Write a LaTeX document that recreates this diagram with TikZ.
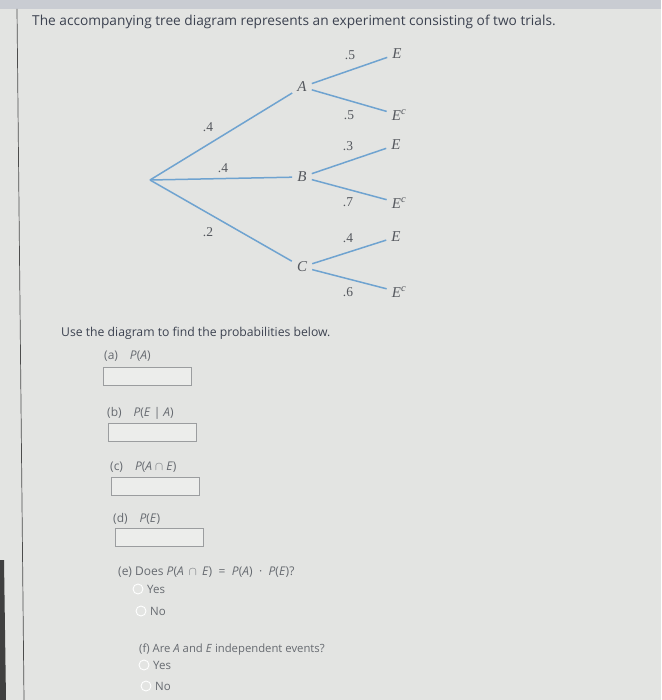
\documentclass[tikz,border=0pt]{standalone}
\usepackage{fontspec}
\setmainfont{Open Sans}
\newfontfamily\treefont{Liberation Serif}
\definecolor{bg}{HTML}{E3E4E2}
\definecolor{band}{HTML}{C9CCD2}
\definecolor{txt}{HTML}{3C4250}
\definecolor{tree}{HTML}{6FA3D0}
\definecolor{lbl}{HTML}{55585E}
\definecolor{boxb}{HTML}{9B9D9F}
\definecolor{boxf}{HTML}{ECEDEB}
\definecolor{qtxt}{HTML}{666A70}
\newcommand{\capsym}{$\cap$}
\begin{document}
\begin{tikzpicture}[x=1pt,y=-1pt,
  branch/.style={draw=tree, line width=1.5pt},
  ev/.style={font=\treefont\itshape\fontsize{15}{15}\selectfont, text=lbl, inner sep=5pt},
  prob/.style={font=\treefont\fontsize{13.5}{13.5}\selectfont, text=lbl, inner sep=1pt},
  qlabel/.style={font=\fontsize{12}{14}\selectfont, text=qtxt, anchor=west, inner sep=0pt},
  ansbox/.style={draw=boxb, fill=boxf, line width=0.8pt, minimum width=88pt, minimum height=18pt, anchor=north west, inner sep=0pt},
  radio/.style={circle, draw=white, line width=0.9pt, fill=bg, minimum size=10pt, inner sep=0pt},
  rlabel/.style={font=\fontsize{11.5}{13}\selectfont, text=qtxt, anchor=west, inner sep=0pt}]
\fill[bg] (0,0) rectangle (661,700);
\useasboundingbox (0,0) rectangle (661,700);
\fill[band] (0,0) rectangle (661,9);
\draw[black!70, line width=0.7pt] (17,9) -- (24,700);
\fill[black!75] (0,560) -- (4,560) -- (6,700) -- (0,700) -- cycle;

\node[anchor=west, inner sep=0pt, text=txt, font=\fontsize{13.7}{16}\selectfont] (title) at (32,22) {The accompanying tree diagram represents an experiment consisting of two trials.};

% tree
\coordinate (root) at (150,180);
\node[ev] (A) at (302,87) {A};
\node[ev] (B) at (302,177) {B};
\node[ev] (C) at (302,267) {C};
\node[ev] (AE) at (397,54) {E};
\node[ev] (AEc) at (399,115) {E\textsuperscript{c}};
\node[ev] (BE) at (396,145) {E};
\node[ev] (BEc) at (399,203) {E\textsuperscript{c}};
\node[ev] (CE) at (396,237) {E};
\node[ev] (CEc) at (399,292) {E\textsuperscript{c}};
\draw[branch] (root) -- (A);
\draw[branch] (root) -- (B);
\draw[branch] (root) -- (C);
\draw[branch] (A) -- (AE);
\draw[branch] (A) -- (AEc);
\draw[branch] (B) -- (BE);
\draw[branch] (B) -- (BEc);
\draw[branch] (C) -- (CE);
\draw[branch] (C) -- (CEc);
\node[prob] (pA) at (208,127) {.4};
\node[prob] (pB) at (223,168) {.4};
\node[prob] (pC) at (208,232) {.2};
\node[prob] (pAE) at (350,55) {.5};
\node[prob] (pAEc) at (349,115) {.5};
\node[prob] (pBE) at (348,146) {.3};
\node[prob] (pBEc) at (348,202) {.7};
\node[prob] (pCE) at (348,238) {.4};
\node[prob] (pCEc) at (348,292) {.6};

% questions
\node[anchor=west, inner sep=0pt, text=txt, font=\fontsize{12.2}{14}\selectfont] (use) at (61,333) {Use the diagram to find the probabilities below.};
\node[qlabel] (qa) at (104,356) {(a)\quad \textit{P}(\textit{A})};
\node[ansbox] (ba) at (103,367) {};
\node[qlabel] (qb) at (107,413) {(b)\quad \textit{P}(\textit{E} | \textit{A})};
\node[ansbox] (bb) at (108,423) {};
\node[qlabel] (qc) at (110,467) {(c)\quad \textit{P}(\textit{A} \capsym{} \textit{E})};
\node[ansbox] (bc) at (111,477) {};
\node[qlabel] (qd) at (113,519) {(d)\quad \textit{P}(\textit{E})};
\node[ansbox] (bd) at (115,528) {};

\node[qlabel] (qe) at (118,572) {(e) Does \textit{P}(\textit{A}\, \capsym\, \textit{E})\; =\; \textit{P}(\textit{A})\; · \;\textit{P}(\textit{E})?};
\node[radio] (e1) at (138,589) {};
\node[rlabel] (e1t) at (147,589) {Yes};
\node[radio] (e2) at (141,611) {};
\node[rlabel] (e2t) at (150,611) {No};
\node[qlabel, font=\fontsize{11.3}{14}\selectfont] (qf) at (139,650) {(f) Are \textit{A} and \textit{E} independent events?};
\node[radio] (f1) at (144,665) {};
\node[rlabel] (f1t) at (153,665) {Yes};
\node[radio] (f2) at (146,686) {};
\node[rlabel] (f2t) at (155,686) {No};
\end{tikzpicture}
\end{document}
